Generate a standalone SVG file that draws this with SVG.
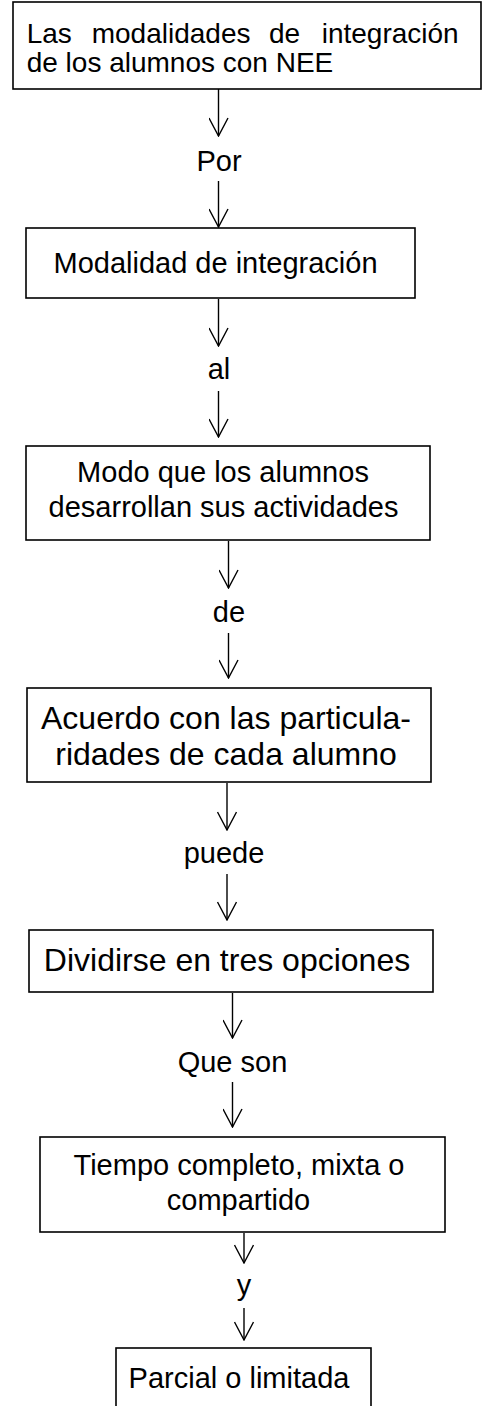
<svg xmlns="http://www.w3.org/2000/svg" width="482" height="1406" viewBox="0 0 482 1406">
<defs>
<style>
.box{fill:#fff;stroke:#000;stroke-width:1.6}
.t{font-family:"Liberation Sans",Arial,sans-serif;font-size:29px;fill:#000}
.t28{font-size:28px}
.t32{font-size:32px}
.c{fill:none;stroke:#000;stroke-width:1.4}
.m{text-anchor:middle}
</style>
<marker id="ah" viewBox="0 0 20 20" refX="19" refY="10" markerWidth="20" markerHeight="20" markerUnits="userSpaceOnUse" orient="auto">
<path d="M1,0.5 L19,10 L1,19.5" fill="none" stroke="#000" stroke-width="1.4"/>
</marker>
</defs>
<rect width="482" height="1406" fill="#fff"/>
<g id="connectors">
<line class="c" x1="218.5" y1="89" x2="218.5" y2="136" marker-end="url(#ah)"/>
<text class="t m" x="219" y="171">Por</text>
<line class="c" x1="218.5" y1="181" x2="218.5" y2="227" marker-end="url(#ah)"/>
<line class="c" x1="218.5" y1="299" x2="218.5" y2="346" marker-end="url(#ah)"/>
<text class="t m" x="219" y="379">al</text>
<line class="c" x1="218.5" y1="391" x2="218.5" y2="437" marker-end="url(#ah)"/>
<line class="c" x1="228.5" y1="541" x2="228.5" y2="588" marker-end="url(#ah)"/>
<text class="t m" x="229" y="622">de</text>
<line class="c" x1="228.5" y1="633" x2="228.5" y2="678" marker-end="url(#ah)"/>
<line class="c" x1="227" y1="783" x2="227" y2="830" marker-end="url(#ah)"/>
<text class="t m" x="224" y="863">puede</text>
<line class="c" x1="227" y1="874" x2="227" y2="920" marker-end="url(#ah)"/>
<line class="c" x1="232.5" y1="993" x2="232.5" y2="1038" marker-end="url(#ah)"/>
<text class="t m" x="232.5" y="1072">Que son</text>
<line class="c" x1="232.5" y1="1082" x2="232.5" y2="1127" marker-end="url(#ah)"/>
<line class="c" x1="244" y1="1233" x2="244" y2="1263" marker-end="url(#ah)"/>
<text class="t m" x="244" y="1295">y</text>
<line class="c" x1="244" y1="1308" x2="244" y2="1340" marker-end="url(#ah)"/>
</g>
<g id="n1">
<rect class="box" x="13" y="2" width="468" height="87"/>
<text class="t t28" x="26.7" y="43">Las</text>
<text class="t t28" x="91.7" y="43">modalidades</text>
<text class="t t28" x="269" y="43">de</text>
<text class="t t28" x="321.7" y="43">integración</text>
<text class="t t28" x="26.7" y="72">de los alumnos con NEE</text>
</g>
<g id="n2">
<rect class="box" x="26" y="228" width="389" height="70"/>
<text class="t m" x="215.5" y="273">Modalidad de integración</text>
</g>
<g id="n3">
<rect class="box" x="26" y="446" width="404" height="94"/>
<text class="t m" x="223" y="482">Modo que los alumnos</text>
<text class="t m" x="223.5" y="517">desarrollan sus actividades</text>
</g>
<g id="n4">
<rect class="box" x="27" y="688" width="404" height="94"/>
<text class="t t32 m" x="226" y="729">Acuerdo con las particula-</text>
<text class="t t32 m" x="226" y="765">ridades de cada alumno</text>
</g>
<g id="n5">
<rect class="box" x="29" y="930" width="404" height="62"/>
<text class="t t32 m" x="227" y="971">Dividirse en tres opciones</text>
</g>
<g id="n6">
<rect class="box" x="40" y="1137" width="405" height="95"/>
<text class="t m" x="239" y="1175">Tiempo completo, mixta o</text>
<text class="t m" x="238.5" y="1210">compartido</text>
</g>
<g id="n7">
<rect class="box" x="116" y="1348" width="255" height="70"/>
<text class="t m" x="239" y="1388">Parcial o limitada</text>
</g>
</svg>
